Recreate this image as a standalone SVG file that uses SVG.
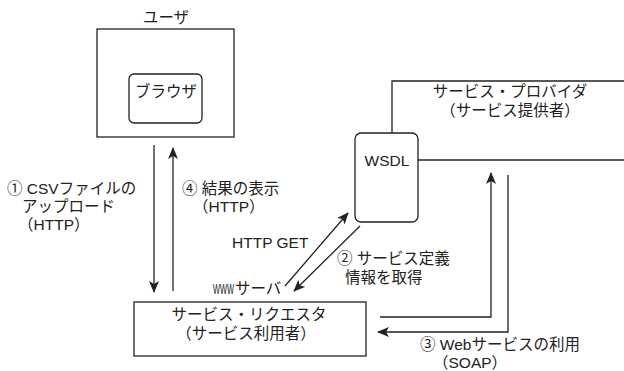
<svg xmlns="http://www.w3.org/2000/svg" width="624" height="371" viewBox="0 0 624 371">
<style>
text{font-family:"Liberation Sans","Noto Sans CJK JP",sans-serif;font-size:15.5px;fill:#222}
.m{text-anchor:middle}
.box{fill:#fff;stroke:#222;stroke-width:1.3}
.ln{fill:none;stroke:#222;stroke-width:1.3}
.ar{fill:none;stroke:#222;stroke-width:1.3;marker-end:url(#ah)}
</style>
<defs>
<marker id="ah" viewBox="0 0 12 10" refX="11" refY="5" markerWidth="12" markerHeight="10" markerUnits="userSpaceOnUse" orient="auto">
<path d="M0,0 L12,5 L0,10 L3,5 Z" fill="#222"/>
</marker>
</defs>
<rect width="624" height="371" fill="#fff"/>
<g id="user">
<rect class="box" x="97" y="29" width="137" height="108"/>
<text class="m" x="166" y="23">ユーザ</text>
</g>
<g id="browser">
<rect class="box" x="129" y="74" width="73" height="49" rx="5"/>
<text class="m" x="166" y="97">ブラウザ</text>
</g>
<g id="provider">
<polyline class="ln" points="392,133 392,81 624,81"/>
<line class="ln" x1="418" y1="160" x2="624" y2="160"/>
<text class="m" x="510" y="97">サービス・プロバイダ</text>
<text class="m" x="510" y="116">（サービス提供者）</text>
</g>
<g id="wsdl">
<rect class="box" x="355" y="133" width="63" height="89" rx="6"/>
<text class="m" x="387" y="166" font-size="16">WSDL</text>
</g>
<g id="requester">
<rect class="box" x="134" y="302" width="232" height="54"/>
<text class="m" x="249" y="320">サービス・リクエスタ</text>
<text class="m" x="246" y="339">（サービス利用者）</text>
</g>
<g id="www">
<text transform="translate(213,294) scale(0.48,1)" font-size="15">WWW</text>
<text x="235" y="294" font-size="14">サーバ</text>
</g>
<g id="connectors">
<line class="ar" x1="154" y1="145" x2="154" y2="292"/>
<line class="ar" x1="173" y1="291" x2="173" y2="148"/>
<line class="ar" x1="285" y1="286" x2="348" y2="213"/>
<line class="ar" x1="360" y1="226" x2="294" y2="291"/>
<polyline class="ar" points="380,317 491,317 491,173"/>
<polyline class="ar" points="508,175 508,332 378,332"/>
</g>
<g id="labels">
<text x="7" y="194" font-size="16">① CSVファイルの</text>
<text x="22" y="212">アップロード</text>
<text x="18" y="230" font-size="16">（HTTP）</text>
<text x="182" y="194">④ 結果の表示</text>
<text x="193" y="212" font-size="16">（HTTP）</text>
<text x="232" y="248" font-size="16">HTTP GET</text>
<text x="337" y="264">② サービス定義</text>
<text x="345" y="283">情報を取得</text>
<text x="420" y="350">③ Webサービスの利用</text>
<text x="433" y="368" font-size="16">（SOAP）</text>
</g>
</svg>
